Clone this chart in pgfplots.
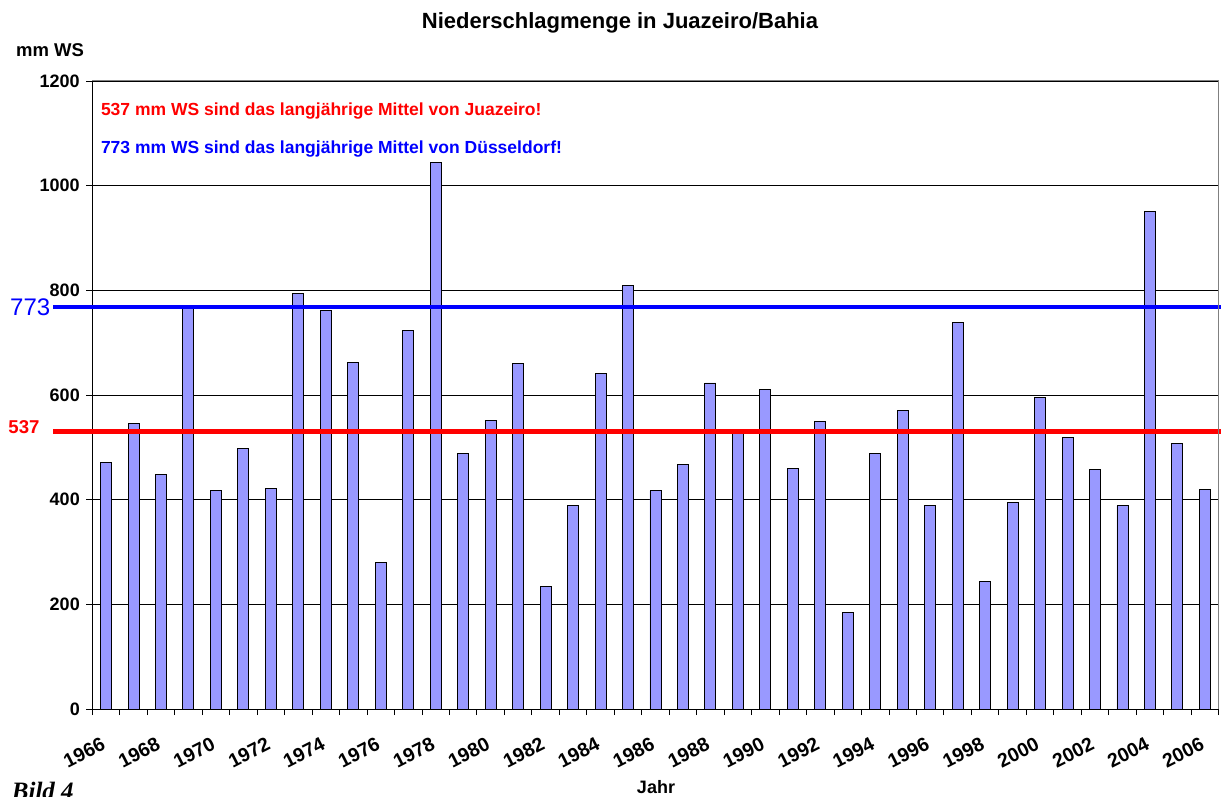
\documentclass[border=0pt]{standalone}
\usepackage{fontspec}
\setmainfont{Liberation Sans}
\newfontfamily\serifbi{Liberation Serif}
\usepackage{pgfplots}
\pgfplotsset{compat=1.18}
\definecolor{barfill}{RGB}{153,153,255}
\begin{document}
\begin{tikzpicture}[x=1pt,y=1pt]
\useasboundingbox (0,0) rectangle (1221,796);
\begin{axis}[
  at={(92.3pt,87pt)}, anchor=south west,
  scale only axis, width=1126.3pt, height=628pt,
  xmin=-0.5, xmax=40.5, ymin=0, ymax=1200,
  clip=false,
  axis x line*=bottom, axis y line*=left,
  ytick={0,200,...,1200},
  ymajorgrids, major grid style={black, line width=0.8pt},
  xtick={0,2,...,40},
  xticklabels={1966,1968,1970,1972,1974,1976,1978,1980,1982,1984,1986,1988,1990,1992,1994,1996,1998,2000,2002,2004,2006},
  minor xtick={-0.5,0.5,...,40.5},
  major x tick style={draw=none},
  tick align=outside,
  major tick length=6pt, minor tick length=6pt,
  tick style={black, line width=0.8pt},
  axis line style={black, line width=1pt},
  /pgf/number format/assume math mode=true,
  /pgf/number format/1000 sep={},
  yticklabel style={font=\fontsize{18}{20}\selectfont\bfseries, xshift=-3pt},
  xticklabel style={font=\fontsize{19.5}{22}\selectfont\bfseries, inner sep=0pt, xshift=-5.5pt, yshift=-21.5pt, rotate=27, anchor=north east},
]
\addplot[ybar, bar width=11pt, fill=barfill, draw=black, line width=0.9pt] coordinates {
(0,471) (1,545) (2,448) (3,768) (4,418) (5,498) (6,421) (7,794) (8,762) (9,663)
(10,280) (11,723) (12,1045) (13,488) (14,552) (15,660) (16,234) (17,389) (18,641) (19,809)
(20,417) (21,468) (22,623) (23,526) (24,610) (25,460) (26,549) (27,185) (28,488) (29,571)
(30,389) (31,739) (32,243) (33,395) (34,595) (35,519) (36,457) (37,388) (38,951) (39,507)
(40,420)};
\addplot[blue, line width=4.3pt] coordinates {(-1.92,768) (40.6,768)};
\addplot[red, line width=4.3pt] coordinates {(-1.92,530) (40.6,530)};
\draw[gray, line width=1pt] (rel axis cs:0,1) -- (rel axis cs:1,1) -- (rel axis cs:1,0);
\end{axis}
\node[anchor=base, inner sep=0] at (620,767.7) {\fontsize{22}{26}\selectfont\bfseries Niederschlagmenge in Juazeiro/Bahia};
\node[anchor=base west, inner sep=0] at (16,739.3) {\fontsize{18.5}{22}\selectfont\bfseries mm WS};
\node[anchor=base west, inner sep=0, text=red] at (100.8,680.3) {\fontsize{17.5}{21}\selectfont\bfseries 537 mm WS sind das langjährige Mittel von Juazeiro!};
\node[anchor=base west, inner sep=0, text=blue] at (100.8,642.5) {\fontsize{17.5}{21}\selectfont\bfseries 773 mm WS sind das langjährige Mittel von Düsseldorf!};
\node[anchor=west, inner sep=0, text=blue] at (10,488.3) {\fontsize{24}{28}\selectfont 773};
\node[anchor=west, inner sep=0, text=red] at (8.3,369.3) {\fontsize{18.6}{22}\selectfont\bfseries 537};
\node[anchor=base, inner sep=0] at (656,3) {\fontsize{18}{22}\selectfont\bfseries Jahr};
\node[anchor=base west, inner sep=0] at (11.7,-3.5) {\fontsize{25}{30}\selectfont\serifbi\bfseries\itshape Bild 4};
\end{tikzpicture}
\end{document}
